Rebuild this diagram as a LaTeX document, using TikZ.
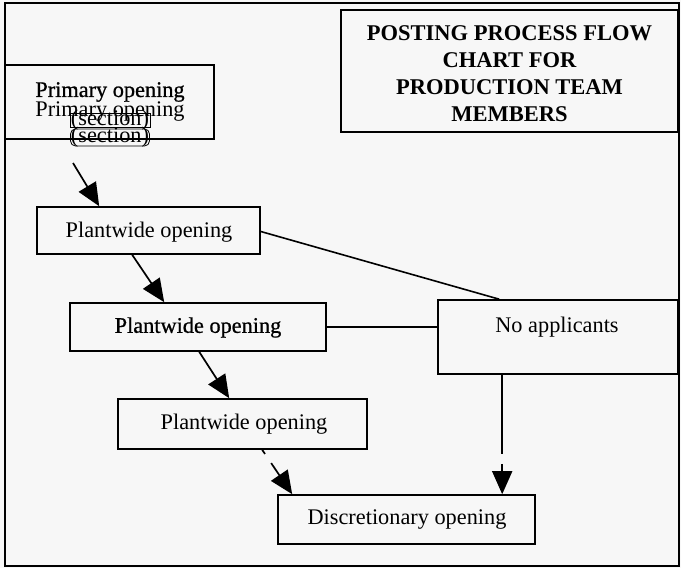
\documentclass[tikz,border=0pt]{standalone}
\usepackage{fontspec}
\setmainfont{Liberation Serif}
\newfontfamily\darkserif{Liberation Serif}[FakeBold=0.8]
\usetikzlibrary{arrows.meta,calc}
\tikzset{
  boxstyle/.style={draw, line width=1.6pt, inner sep=0pt, anchor=center},
  lbl/.style={inner sep=0pt, anchor=center, font=\fontsize{22.3}{26.5}\selectfont},
  arr/.style={line width=1.7pt, -{Triangle[length=23pt,width=20pt]}},
  plain/.style={line width=1.6pt}
}
\begin{document}
\begin{tikzpicture}[x=1pt,y=-1pt]
\useasboundingbox (0,0) rectangle (681,568);
\fill[white!97!black] (0,0) rectangle (681,568);
% outer frame
\draw[line width=1.4pt] (5,3) rectangle (679,566);
% title
\node[boxstyle, minimum width=337pt, minimum height=122pt] (title) at (509.5,71) {};
\node[lbl, align=center, font=\fontsize{22.5}{26.8}\selectfont\bfseries] (titletext) at (509.5,73.5)
  {POSTING PROCESS FLOW\\CHART FOR\\PRODUCTION TEAM\\MEMBERS};
% primary box
\node[boxstyle, minimum width=209pt, minimum height=74pt] (prim) at (109.5,102) {};
\node[lbl, font=\fontsize{22.3}{26.5}\selectfont\darkserif] (pt1) at (110,92) {Primary opening};
\node[lbl] (pt2) at (110,112) {Primary opening};
\node[lbl, draw, line width=0.8pt, inner sep=1pt, text height=11pt, text depth=1pt] (sec1) at (110,120.5) {(section)};
\node[lbl, draw, line width=0.8pt, rounded corners=5pt, inner sep=0.5pt, text height=13pt, text depth=3pt] (sec2) at (110,137.5) {(section)};
% plantwide boxes
\node[boxstyle, minimum width=223pt, minimum height=47pt] (p1) at (148.5,230.5) {};
\node[lbl] (p1t) at (149,232) {Plantwide opening};
\node[boxstyle, minimum width=256pt, minimum height=48pt] (p2) at (198,327) {};
\node[lbl, font=\fontsize{22.3}{26.5}\selectfont\darkserif] (p2t) at (198,327.5) {Plantwide opening};
\node[boxstyle, minimum width=249pt, minimum height=50pt] (p3) at (242.5,424) {};
\node[lbl] (p3t) at (244,424) {Plantwide opening};
% no applicants
\node[boxstyle, minimum width=240pt, minimum height=74pt] (noapp) at (558,337) {};
\node[lbl] (nat) at (557,327) {No applicants};
% discretionary
\node[boxstyle, minimum width=257pt, minimum height=49pt] (disc) at (406.5,519.5) {};
\node[lbl] (disct) at (407,520) {Discretionary opening};
% connectors
\coordinate (a1s) at (73,163);
\draw[arr] (a1s) -- ([xshift=63pt]p1.north west);
\draw[arr] ([xshift=96pt]p1.south west) -- ([xshift=95pt]p2.north west);
\draw[arr] ([xshift=130pt]p2.south west) -- ([xshift=112pt]p3.north west);
\draw[arr, dash pattern=on 5pt off 11pt on 200pt] ([xshift=145pt]p3.south west) -- ([xshift=15pt]disc.north west);
\draw[plain] ([yshift=-1pt]p1.east) -- ([xshift=62pt]noapp.north west);
\draw[plain] (p2.east) -- (p2.east -| noapp.west);
\draw[arr, dash pattern=on 79pt off 10pt on 200pt] ([xshift=65pt]noapp.south west) -- ([xshift=65pt]noapp.south west |- disc.north);
\end{tikzpicture}
\end{document}
